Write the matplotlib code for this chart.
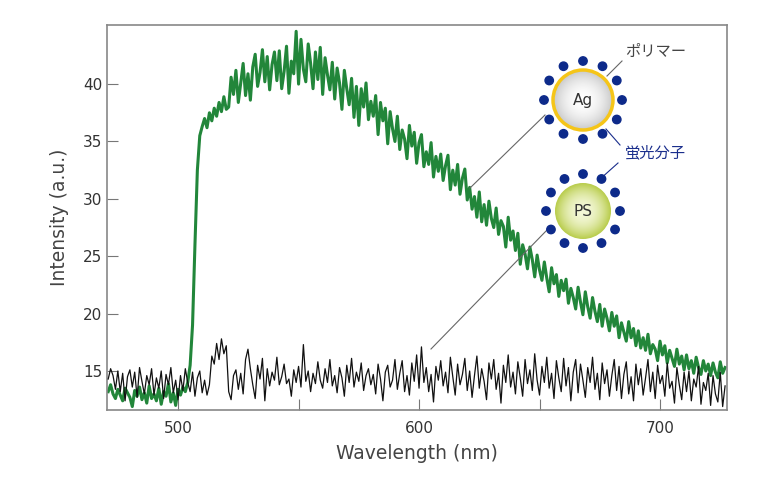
import numpy as np
import matplotlib
matplotlib.use("Agg")
import matplotlib.pyplot as plt
from matplotlib.patches import Circle

wl_start = 471
green = [13.2,13.8,13.0,12.6,13.4,12.9,12.4,13.5,13.1,12.7,
11.9,13.3,12.8,13.6,12.5,13.1,12.2,13.7,12.6,13.0,
12.4,13.5,12.1,13.2,12.8,13.9,12.3,13.1,12.0,13.4,
12.9,13.6,13.2,14.0,15.5,19.0,26.0,32.5,35.5,36.3,
37.0,36.2,37.5,36.8,37.9,37.2,38.4,37.6,38.9,37.8,
38.0,40.6,39.1,41.2,38.4,40.1,41.8,39.0,40.9,38.6,
41.5,42.6,39.8,41.0,43.0,40.2,42.4,39.5,41.7,42.8,
40.3,42.9,39.6,41.1,43.3,39.2,42.0,40.9,44.6,40.0,
43.9,41.3,40.2,43.5,41.8,39.6,42.8,40.4,43.2,39.1,
42.3,40.8,39.5,41.9,38.7,41.4,40.1,37.8,41.2,39.6,
38.2,40.5,37.1,39.8,36.4,39.6,38.0,40.1,36.9,38.5,
37.2,39.0,35.6,38.4,36.8,37.9,34.8,37.6,36.1,35.0,
37.2,34.3,36.0,35.2,33.5,36.4,34.6,35.8,33.1,34.9,
35.6,32.8,34.1,33.0,34.9,31.9,33.7,32.4,33.9,31.6,
32.9,33.8,30.8,32.5,31.2,33.0,30.4,31.8,32.6,29.9,
31.0,29.1,30.2,28.4,30.6,28.0,29.5,27.7,29.8,28.3,
27.5,29.2,26.9,28.1,27.6,25.8,28.4,26.4,27.2,25.5,
27.0,24.3,26.0,25.2,23.9,25.8,24.7,23.2,25.1,23.8,
22.9,24.5,23.1,21.9,24.0,22.6,23.4,21.5,22.9,22.0,
23.0,20.9,22.2,21.4,20.4,22.3,21.0,19.9,21.9,20.6,
19.6,21.4,20.2,19.3,20.8,18.9,20.4,19.6,18.5,20.1,
18.9,19.8,17.9,19.2,18.4,17.6,19.3,17.9,18.7,17.2,
18.5,17.0,17.9,16.8,18.2,16.5,17.3,16.9,15.9,17.6,
16.4,17.2,15.7,16.8,16.1,15.4,16.9,15.6,16.3,15.1,
16.4,15.2,15.9,14.8,16.2,15.3,14.7,15.9,15.0,15.6,
14.6,15.7,14.9,14.4,15.8,14.8,15.3]
black = [14.3,15.2,14.6,13.4,15.0,13.2,14.8,12.4,14.5,15.1,
13.6,14.9,12.7,15.3,14.1,13.0,14.6,13.8,15.2,12.9,
14.4,13.5,15.0,12.6,14.7,13.8,15.3,13.1,14.2,12.5,
14.6,13.3,15.2,14.0,13.2,14.9,12.8,14.4,15.0,13.1,
14.2,12.9,13.8,16.3,15.6,17.4,16.0,17.8,16.5,17.2,
13.2,12.5,14.6,15.1,13.4,14.8,13.0,16.0,16.9,15.2,
13.8,12.6,15.5,14.3,16.1,12.4,15.2,13.7,14.9,14.2,
16.2,13.8,14.5,15.6,13.9,14.3,12.8,15.1,14.0,15.4,
13.6,17.3,14.1,15.0,13.2,14.8,13.9,15.8,14.2,13.5,
15.2,14.0,16.0,13.7,14.6,13.1,15.3,14.4,12.8,15.5,
14.0,16.1,13.6,14.9,14.1,15.7,13.3,14.6,15.2,13.8,
14.7,13.0,15.6,14.3,12.4,14.9,15.5,13.6,14.2,16.0,
13.4,14.8,15.9,13.2,14.6,12.9,15.7,14.1,16.4,13.5,
17.1,14.0,15.3,13.2,14.7,12.3,15.4,14.2,15.9,13.7,
14.9,13.1,16.2,14.5,12.9,15.6,13.8,14.7,16.1,13.3,
15.0,12.7,14.6,16.3,13.5,15.2,14.1,12.5,15.7,14.3,
16.0,13.4,14.8,12.2,15.5,14.0,16.4,13.6,14.9,13.0,
15.8,14.4,12.8,16.0,13.9,15.1,13.3,16.5,14.2,12.9,
15.4,14.0,16.2,13.5,14.8,12.6,15.9,14.4,13.2,16.1,
13.7,15.3,12.4,14.9,16.0,13.1,15.6,14.2,12.7,15.3,
14.0,16.2,13.4,14.8,12.5,15.7,13.9,15.1,12.8,14.6,
16.0,13.3,15.4,12.6,14.7,15.8,13.0,14.5,12.4,15.6,
13.8,15.2,12.9,14.4,16.0,13.2,14.9,12.6,15.5,13.9,
14.6,12.8,15.7,13.5,14.1,12.2,15.3,13.8,12.5,14.9,
13.2,15.0,12.4,14.3,13.6,15.4,12.1,14.0,13.3,14.8,
12.0,14.6,13.0,12.3,14.9,11.9,13.7]
x_ticks = [500, 550, 600, 650, 700]
x_labels = ["500", "", "600", "", "700"]
y_ticks = [15, 20, 25, 30, 35, 40]

wl = np.arange(wl_start, wl_start + len(green))

W, H = 768, 497
fig = plt.figure(figsize=(W/100, H/100), dpi=100)
ax = fig.add_axes([107/W, 1-410/H, 620/W, 385/H])
ax.plot(wl, green, color="#22863a", lw=2.2, zorder=2)
ax.plot(wl, black, color="#111111", lw=0.9, zorder=3)
ax.set_xlim(470.5, 727.8)
ax.set_ylim(11.6, 45.15)
ax.set_xticks(x_ticks)
ax.set_xticklabels(x_labels)
ax.set_yticks(y_ticks)
ax.tick_params(direction="in", length=8, color="#777777", labelcolor="#333333", labelsize=11)
ax.tick_params(axis="x", pad=8)
for s in ax.spines.values():
    s.set_color("#888888"); s.set_linewidth(1.2)
ax.set_xlabel("Wavelength (nm)", fontsize=13.5, color="#444444", labelpad=6)
ax.set_ylabel("Intensity (a.u.)", fontsize=13.5, color="#444444", labelpad=10)

ov = fig.add_axes([0, 0, 1, 1], facecolor="none")
ov.set_xlim(0, W); ov.set_ylim(H, 0); ov.axis("off")

def grad_circle(cx, cy, r, inner, outer, edge=None):
    n = 200
    yy, xx = np.mgrid[-1:1:n*1j, -1:1:n*1j]
    d = np.clip(np.sqrt(xx**2 + yy**2), 0, 1)
    inner = np.array(matplotlib.colors.to_rgb(inner)); outer = np.array(matplotlib.colors.to_rgb(outer))
    img = inner[None, None, :]*(1-d[..., None]**2) + outer[None, None, :]*(d[..., None]**2)
    im = ov.imshow(img, extent=[cx-r, cx+r, cy+r, cy-r], zorder=5)
    c = Circle((cx, cy), r, transform=ov.transData, facecolor="none",
               edgecolor=edge if edge else "none", lw=2.5, zorder=6)
    ov.add_patch(c); im.set_clip_path(c)

def dots(cx, cy, R, angles):
    for a in angles:
        t = np.deg2rad(a)
        ov.add_patch(Circle((cx+R*np.cos(t), cy-R*np.sin(t)), 4.2, color="#0d2a8a", zorder=7))

ov.plot([545, 470], [115, 188], color="#666666", lw=0.8, zorder=4)
ov.plot([548, 431], [229, 349], color="#666666", lw=0.8, zorder=4)
ov.plot([607, 622], [76, 61], color="#666666", lw=0.8, zorder=4)
ov.plot([606, 620], [129, 145], color="#1a2e8c", lw=0.8, zorder=4)
ov.plot([599, 618], [180, 163], color="#1a2e8c", lw=0.8, zorder=4)

grad_circle(583, 100, 30, "#ffffff", "#c8c8c8", edge="#f5c518")
dots(583, 100, 39, [0, 30, 60, 90, 120, 150, 180, 210, 240, 270, 300, 330])
ov.text(583, 100, "Ag", ha="center", va="center", fontsize=11, color="#333333", zorder=8)
grad_circle(583, 211, 28, "#f4f8d8", "#b8cc4a")
dots(583, 211, 37, [0, 30, 60, 90, 120, 150, 180, 210, 240, 270, 300, 330])
ov.text(583, 211, "PS", ha="center", va="center", fontsize=11, color="#333333", zorder=8)

ov.text(625, 51, "ポリマー", fontsize=11, color="#444444", family="Noto Sans CJK JP", va="center")
ov.text(625, 153, "蛍光分子", fontsize=11, color="#1a2e8c", family="Noto Sans CJK JP", va="center")

fig.savefig("out.png", dpi=100)
